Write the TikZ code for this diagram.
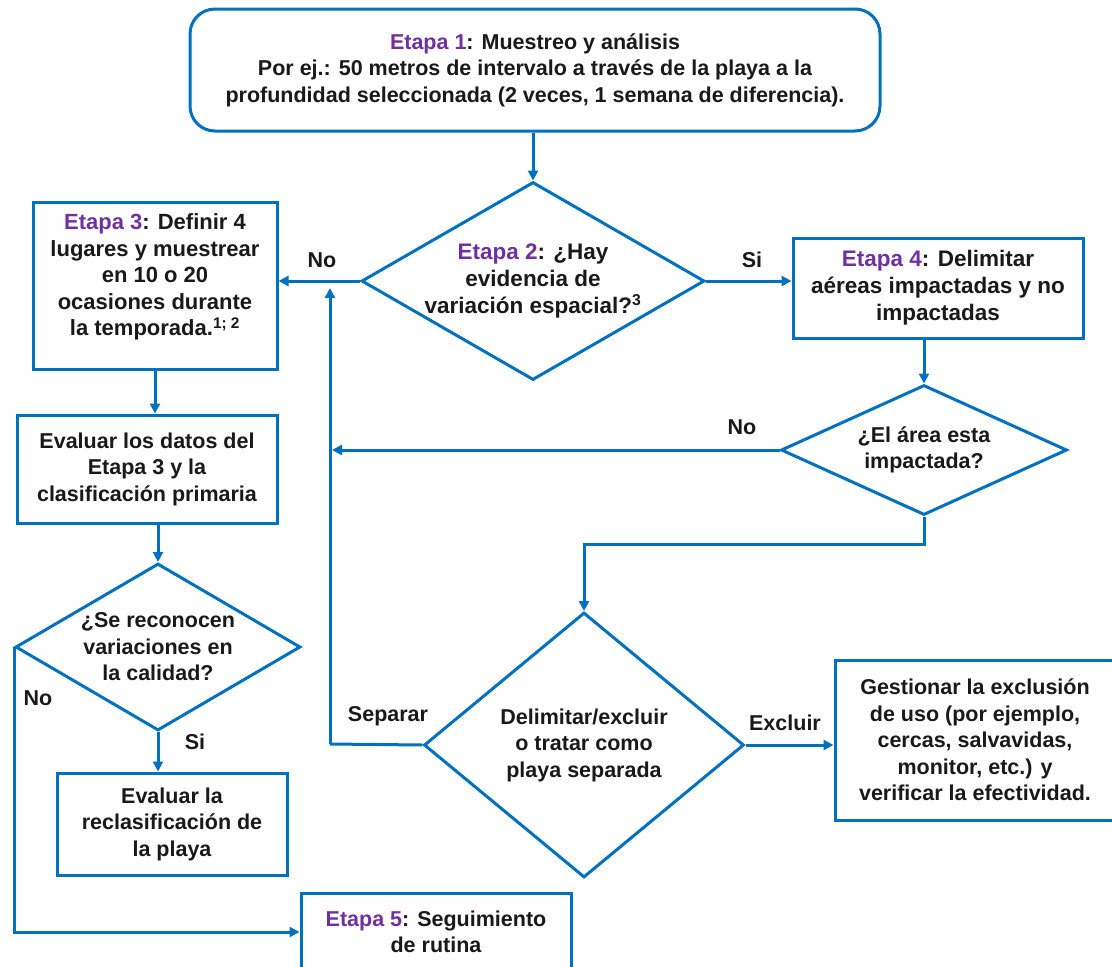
\documentclass[tikz,border=0pt]{standalone}
\usepackage{fontspec}
\setmainfont{Liberation Sans}
\usetikzlibrary{shapes.geometric,arrows.meta}

\definecolor{flujo}{RGB}{0,112,192}
\definecolor{etapa}{RGB}{112,48,160}
\definecolor{texto}{RGB}{25,25,25}
\newcommand{\etapa}[1]{\textcolor{etapa}{Etapa #1}}

\tikzset{
  caja/.style={draw=flujo, line width=3pt, align=center, inner sep=0pt, text=texto},
  rombo/.style={diamond, draw=flujo, line width=3pt, align=center, inner sep=-8pt, text=texto},
  linea/.style={draw=flujo, line width=3pt},
  flecha/.style={linea, -{Triangle[length=10pt,width=10pt]}},
  etiq/.style={text=texto, inner sep=0pt},
  grande/.style={font=\fontsize{22.5}{27}\selectfont\bfseries}
}

\begin{document}
\begin{tikzpicture}[x=1pt,y=-1pt,font=\fontsize{21.5}{26.5}\selectfont\bfseries]
\useasboundingbox (0,0) rectangle (1112,967);

% etapas y preguntas
\node[caja, rounded corners=25pt, minimum width=690pt, minimum height=122pt] (e1) at (535,70)
  {\etapa{1}: Muestreo y análisis\\
   Por ej.: 50 metros de intervalo a través de la playa a la\\
   profundidad seleccionada (2 veces, 1 semana de diferencia).};
\node[rombo, grande, aspect=1.73, minimum width=343pt, minimum height=198pt] (e2) at (533,281)
  {\etapa{2}: ¿Hay\\ evidencia de\\ variación espacial?\textsuperscript{3}};
\node[caja, minimum width=244pt, minimum height=167pt,
      font=\fontsize{22}{26.5}\selectfont\bfseries] (e3) at (155,286)
  {\etapa{3}: Definir 4\\ lugares y muestrear\\ en 10 o 20\\ ocasiones durante\\
   la temporada.\textsuperscript{1; 2}\\[-4pt]\mbox{}};
\node[caja, grande, minimum width=290pt, minimum height=100pt] (e4) at (938,288)
  {\etapa{4}: Delimitar\\ aéreas impactadas y no\\ impactadas};
\node[rombo, aspect=2.2, minimum width=286pt, minimum height=130pt] (d3) at (924,450)
  {¿El área esta\\ impactada?};
\node[caja, minimum width=260pt, minimum height=108pt] (ev) at (147,469)
  {Evaluar los datos del\\ Etapa 3 y la\\ clasificación primaria};
\node[rombo, aspect=1.71, minimum width=285pt, minimum height=167pt] (d5) at (158,647)
  {¿Se reconocen\\ variaciones en\\ la calidad?};
\node[rombo, aspect=1.21, minimum width=320pt, minimum height=265pt] (d4) at (584,745)
  {Delimitar/excluir\\ o tratar como\\ playa separada};
\node[caja, minimum width=280pt, minimum height=160pt] (ge) at (975,740)
  {Gestionar la exclusión\\ de uso (por ejemplo,\\ cercas, salvavidas,\\
   monitor, etc.) y\\ verificar la efectividad.};
\node[caja, minimum width=230pt, minimum height=102pt] (rc) at (172,824)
  {Evaluar la\\ reclasificación de\\ la playa};
\node[caja, minimum width=270pt, minimum height=78pt] (e5) at (436,932)
  {\etapa{5}: Seguimiento\\ de rutina};

% etiquetas
\node[etiq] (no1) at (322,260) {No};
\node[etiq] (si1) at (752,260) {Si};
\node[etiq] (no2) at (742,427) {No};
\node[etiq] (sep) at (388,716) {Separar};
\node[etiq] (exc) at (785,723) {Excluir};
\node[etiq] (no3) at (38,698) {No};
\node[etiq] (si2) at (195,742) {Si};

\coordinate (vuelta) at (330,744);

% flechas
\draw[flecha] (e1.south -| e2.north) -- (e2.north);
\draw[flecha] (e2.west) -- (e3.east |- e2.west);
\draw[flecha] (e2.east) -- (e4.west |- e2.east);
\draw[flecha] (d3.north |- e4.south) -- (d3.north);
\draw[flecha, shorten >=2pt] (d3.west) -- (d3.west -| vuelta);
\draw[flecha] (d3.south) -- ++(0,28) -| (d4.north);
\draw[linea] (d4.west) -- (vuelta);
\draw[flecha, shorten >=7pt] (vuelta) -- (vuelta |- e2.west);
\draw[flecha] (d4.east) -- (ge.west |- d4.east);
\draw[flecha] (e3.south) -- (e3.south |- ev.north);
\draw[flecha] (d5.north |- ev.south) -- (d5.north);
\draw[flecha] (d5.south) -- (d5.south |- rc.north);
\draw[flecha] (d5.west) |- (e5.west);
\end{tikzpicture}
\end{document}
